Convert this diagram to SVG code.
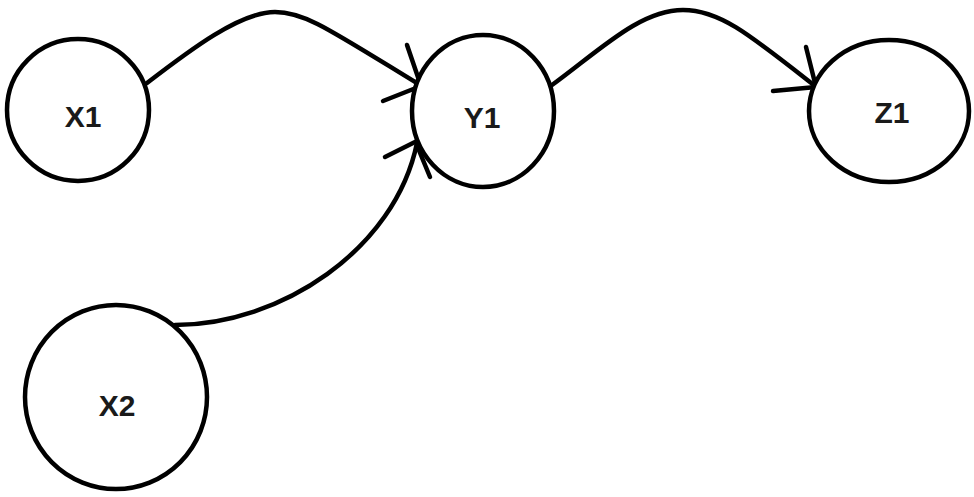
<svg xmlns="http://www.w3.org/2000/svg" width="974" height="497" viewBox="0 0 974 497">
<style>
.node ellipse{fill:#fff;stroke:#000;stroke-width:4.5}
.node text{font-family:"Liberation Sans",Arial,sans-serif;font-weight:bold;font-size:30px;fill:#1a1a1a;text-anchor:middle}
.edge path{fill:none;stroke:#000;stroke-width:4.5;stroke-linecap:round;stroke-linejoin:round}
</style>
<rect width="974" height="497" fill="#fff"/>
<g id="connectors" class="edge">
<path d="M147,83 C190,50 240,12 275,12 C305,12 330,30 420,85"/>
<path d="M407,45 L421,86 L383,101"/>
<path d="M552,85 C600,50 640,10 683,10 C720,10 750,35 815,86"/>
<path d="M806,47 L816,87 L773,91"/>
<path d="M175,325 C280,325 395,250 417,143"/>
<path d="M385,157 L417,141 M430,177 L418,148"/>
</g>
<g id="X1" class="node"><ellipse cx="78" cy="110" rx="71" ry="71"/><text x="83" y="127">X1</text></g>
<g id="Y1" class="node"><ellipse cx="483" cy="111" rx="71" ry="76"/><text x="482" y="128">Y1</text></g>
<g id="Z1" class="node"><ellipse cx="889" cy="111" rx="80" ry="71"/><text x="892" y="123">Z1</text></g>
<g id="X2" class="node"><ellipse cx="116" cy="397" rx="91" ry="92"/><text x="117" y="416">X2</text></g>
</svg>
